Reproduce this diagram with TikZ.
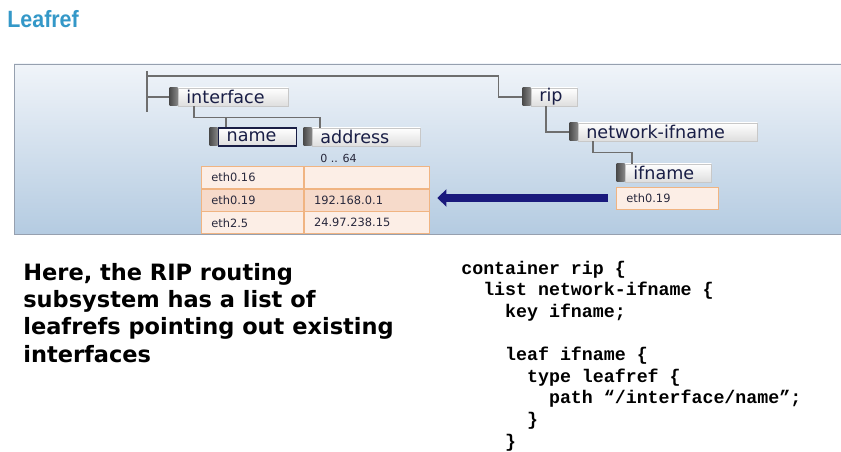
\documentclass[tikz,border=0pt]{standalone}
\usepackage{fontspec}
\setmainfont{DejaVu Sans}
\newfontfamily\titlefont[FakeStretch=0.91]{Liberation Sans}
\newfontfamily\codefont{Liberation Mono}
\usetikzlibrary{positioning}
\usetikzlibrary{calc, arrows.meta}

\definecolor{titleblue}{RGB}{52,152,200}
\definecolor{paneltop}{RGB}{240,244,249}
\definecolor{panelbot}{RGB}{180,203,225}
\definecolor{panelline}{RGB}{150,160,175}
\definecolor{treeline}{RGB}{110,110,110}
\definecolor{tabgray}{RGB}{95,95,95}
\definecolor{boxgray}{RGB}{222,222,222}
\definecolor{boxline}{RGB}{200,200,200}
\definecolor{treetext}{RGB}{25,30,70}
\definecolor{celltext}{RGB}{40,40,60}
\definecolor{celllight}{RGB}{252,238,230}
\definecolor{cellmid}{RGB}{246,218,202}
\definecolor{cellline}{RGB}{240,180,130}
\definecolor{arrowblue}{RGB}{25,25,125}

\begin{document}
\begin{tikzpicture}[x=0.02cm,y=-0.02cm,
  tree/.style={draw=treeline,line width=0.7pt},
  tbox/.style={draw=boxline,top color=white,bottom color=boxgray,text=treetext,font=\fontsize{10}{12}\selectfont,anchor=west,minimum height=0.36cm,inner xsep=0.16cm,inner ysep=0pt,align=left},
  tab/.style={left color=tabgray!80!black,right color=tabgray!75,anchor=east,minimum width=0.16cm,minimum height=0.36cm,inner sep=0pt},
  cell/.style={draw=cellline,anchor=north west,minimum height=0.44cm,inner xsep=0.2cm,inner ysep=0pt,text=celltext,font=\fontsize{6.5}{8}\selectfont,align=left},
  refarrow/.style={draw=arrowblue,line width=0.16cm,-{Triangle[length=0.18cm,width=0.34cm]}}]
\fill[white] (0,0) rectangle (841,452);
\useasboundingbox (0,0) rectangle (841,452);
\node[anchor=north west,inner sep=0,font=\titlefont\bfseries\fontsize{13.4}{16}\selectfont,text=titleblue] (title) at (7,10) {Leafref};

\shade[top color=paneltop,bottom color=panelbot] (14,64) rectangle (845,234);
\draw[panelline] (845,64) -- (14,64) -- (14,234) -- (845,234);

\node[tbox,text width=1.88cm] (interface) at (178,97) {interface};
\node[tab] (ifTab) at (interface.west) {};
\node[tbox,text width=1.24cm,draw=treetext,line width=0.8pt] (name) at (218,137) {name};
\node[tab] (nameTab) at (name.west) {};
\node[tbox,text width=1.84cm] (address) at (312,137) {address};
\node[tab] (addrTab) at (address.west) {};
\node[anchor=west,inner sep=0,text=celltext,font=\fontsize{6.3}{8}\selectfont] (range) at (320,158) {0 .. 64};
\node[tbox,text width=0.6cm] (rip) at (531,97) {rip};
\node[tab] (ripTab) at (rip.west) {};
\node[tbox,text width=3.26cm] (netif) at (578,132) {network-ifname};
\node[tab] (netifTab) at (netif.west) {};
\node[tbox,text width=1.4cm] (ifname) at (625,173) {ifname};
\node[tab] (ifnameTab) at (ifname.west) {};

\coordinate (root) at (147,76);
\draw[tree] ($(root)+(0,-5)$) -- ($(root)+(0,36)$);
\draw[tree] (root) -| ($(ripTab.west)+(-24,0)$) -- (ripTab.west);
\draw[tree] (root |- ifTab.west) -- (ifTab.west);
\draw[tree] ($(interface.south west)+(16,0)$) |- ($(address.north west)+(8,-10)$) -- ($(address.north west)+(8,0)$);
\draw[tree] ($(name.north west)+(8,0)$) -- ++(0,-10);
\draw[tree] ($(rip.south west)+(15,0)$) |- (netifTab.west);
\draw[tree] ($(netif.south west)+(15,0)$) |- ($(ifname.north west)+(7,-11)$) -- ($(ifname.north west)+(7,0)$);

\node[cell,fill=celllight,text width=1.64cm] (r1a) at (201,166) {eth0.16};
\node[cell,fill=celllight,text width=2.1cm,right=0pt of r1a] (r1b) {};
\node[cell,fill=cellmid,text width=1.64cm,below=0pt of r1a] (r2a) {eth0.19};
\node[cell,fill=cellmid,text width=2.1cm,right=0pt of r2a] (r2b) {192.168.0.1};
\node[cell,fill=celllight,text width=1.64cm,below=0pt of r2a] (r3a) {eth2.5};
\node[cell,fill=celllight,text width=2.1cm,right=0pt of r3a] (r3b) {24.97.238.15};

\node[cell,fill=celllight,anchor=west,text width=1.64cm] (ref) at (616,198) {eth0.19};
\draw[refarrow] ($(ref.west)+(-8,0)$) -- ($(r2b.east |- ref.west)+(8,0)$);

\node[anchor=base west,inner sep=0,align=left,font=\bfseries\fontsize{12.8}{15.5}\selectfont] (claim) at (23,362) {Here, the RIP routing\\subsystem has a list of\\leafrefs pointing out existing\\interfaces};

\node[anchor=base west,inner sep=0,align=left,font=\codefont\bfseries\fontsize{10.4}{12.3}\selectfont] (code) at (461,447) {container rip \{\\
\hspace*{1.2em}list network-ifname \{\\
\hspace*{2.4em}key ifname;\\[12.3pt]
\hspace*{2.4em}leaf ifname \{\\
\hspace*{3.6em}type leafref \{\\
\hspace*{4.8em}path “/interface/name”;\\
\hspace*{3.6em}\}\\
\hspace*{2.4em}\}};

\end{tikzpicture}
\end{document}
